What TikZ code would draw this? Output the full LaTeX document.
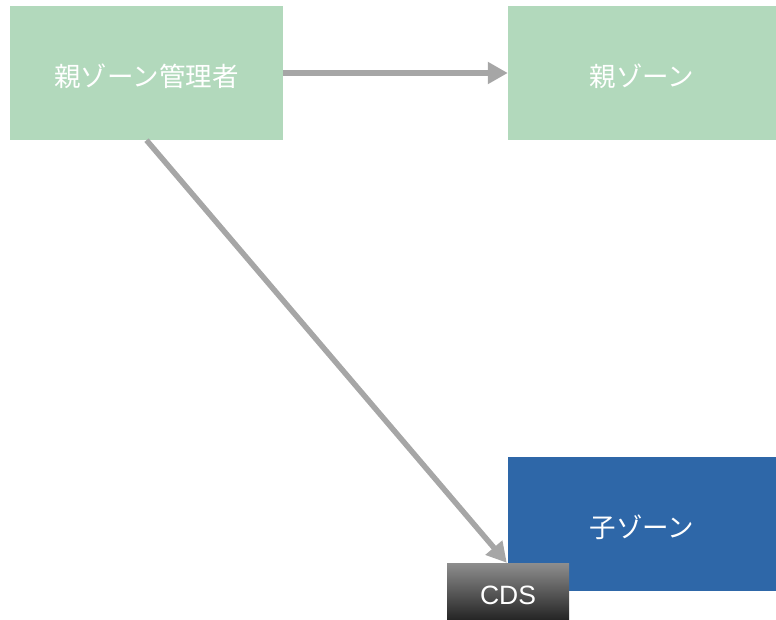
\documentclass[tikz,border=0pt]{standalone}
\usepackage{fontspec}
\setmainfont{Liberation Sans}
\newfontfamily\jpfont{Noto Sans CJK JP}
\usetikzlibrary{arrows.meta,calc}
\definecolor{boxgreen}{HTML}{B2D9BC}
\definecolor{boxblue}{HTML}{2E67A8}
\definecolor{arrgray}{HTML}{A6A6A6}
\definecolor{cdstop}{HTML}{8E8E8E}
\definecolor{cdsbot}{HTML}{262626}
\newcommand{\lowertxt}[2]{\raisebox{-#1}[\height][\depth]{#2}}
\tikzset{
  zonebox/.style={draw=none, inner sep=0pt, text=white, font=\jpfont\fontsize{26.5}{30}\selectfont},
  conn/.style={draw=arrgray, line width=5.5pt, -{Triangle[length=20pt,width=21pt]}},
}
\begin{document}
\begin{tikzpicture}[x=1pt,y=-1pt]
\useasboundingbox (0,0) rectangle (776,619);
\node[zonebox, fill=boxgreen, minimum width=273pt, minimum height=134pt] (mgr) at (146.5,73) {\lowertxt{3pt}{親ゾーン管理者}};
\node[zonebox, fill=boxgreen, minimum width=268pt, minimum height=134pt] (parent) at (642,73) {\lowertxt{3pt}{親ゾーン}};
\node[zonebox, fill=boxblue, minimum width=268pt, minimum height=134pt] (child) at (642,524) {\lowertxt{3pt}{子ゾーン}};
\node[draw=none, inner sep=0pt, minimum width=122pt, minimum height=56pt, top color=cdstop, bottom color=cdsbot, text=white, font=\fontsize{26.5}{30}\selectfont] (cds) at (508,591) {\lowertxt{4pt}{CDS}};
\draw[conn] (mgr.east) -- (parent.west);
\draw[conn] (mgr.south) -- ($(cds.north west)+(60,0)$);
\end{tikzpicture}
\end{document}
